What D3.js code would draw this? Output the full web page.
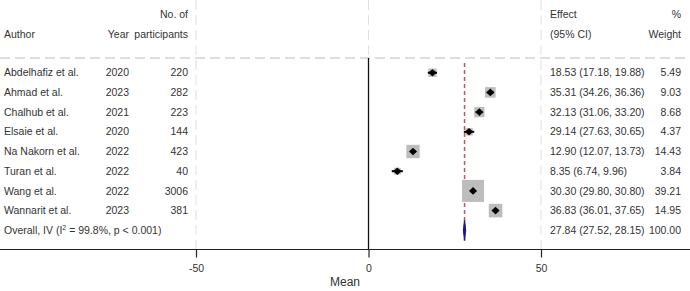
<!DOCTYPE html>
<html>
<head>
<meta charset="utf-8">
<script src="https://cdn.jsdelivr.net/npm/d3@7"></script>
<style>
  body { margin: 0; background: #fff; }
  svg { display: block; font-family: "Liberation Sans", Arial, sans-serif; }
</style>
</head>
<body>
<svg id="forest"></svg>
<script>
const authors = ["Abdelhafiz et al.", "Ahmad et al.", "Chalhub et al.", "Elsaie et al.",
  "Na Nakorn et al.", "Turan et al.", "Wang et al.", "Wannarit et al."];
const years = [2020, 2023, 2021, 2020, 2022, 2022, 2022, 2023];
const participants = [220, 282, 223, 144, 423, 40, 3006, 381];
const effects = [18.53, 35.31, 32.13, 29.14, 12.90, 8.35, 30.30, 36.83];
const lower = [17.18, 34.26, 31.06, 27.63, 12.07, 6.74, 29.80, 36.01];
const upper = [19.88, 36.36, 33.20, 30.65, 13.73, 9.96, 30.80, 37.65];
const weights = [5.49, 9.03, 8.68, 4.37, 14.43, 3.84, 39.21, 14.95];
const overall = { est: 27.84, lo: 27.52, hi: 28.15, weight: 100.0 };
const ticks = [-50, 0, 50];

const width = 690, height = 291;
const svg = d3.select("#forest").attr("width", width).attr("height", height);
const txt = "#333";
const fs = 10.5;

const x = d3.scaleLinear().domain([-50, 50]).range([196, 541]);
const rows = authors.concat(["overall"]);
const y = d3.scalePoint().domain(rows).range([72.7, 230.3]);
const box = d3.scaleSqrt().domain([0, d3.max(weights)]).range([0, 22]);
const f2 = d3.format(".2f");
const axisY = 249.5;

// grid lines
svg.selectAll(".grid")
  .data(ticks)
  .enter()
  .append("line")
  .attr("x1", d => x(d)).attr("x2", d => x(d))
  .attr("y1", 0).attr("y2", axisY)
  .attr("stroke", "#e0e0e0")
  .attr("stroke-dasharray", "10,5");

// header separator
svg.append("line")
  .attr("x1", 0).attr("x2", width)
  .attr("y1", 58).attr("y2", 58)
  .attr("stroke", "#d4d4d4")
  .attr("stroke-width", 1.5)
  .attr("stroke-dasharray", "10,5");

// zero line
svg.append("line")
  .attr("x1", x(0)).attr("x2", x(0))
  .attr("y1", 58).attr("y2", axisY)
  .attr("stroke", "#111")
  .attr("stroke-width", 1.3);

// overall effect line
svg.append("line")
  .attr("x1", x(overall.est)).attr("x2", x(overall.est))
  .attr("y1", 63).attr("y2", 241)
  .attr("stroke", "#c25563")
  .attr("stroke-width", 1.5)
  .attr("stroke-dasharray", "4,3");

// study rows
const study = svg.selectAll(".study")
  .data(authors.map((a, i) => ({ a: a, i: i })))
  .enter()
  .append("g")
  .attr("class", "study");

study.append("rect")
  .attr("x", d => x(effects[d.i]) - box(weights[d.i]) / 2)
  .attr("y", d => y(d.a) - box(weights[d.i]) / 2)
  .attr("width", d => box(weights[d.i]))
  .attr("height", d => box(weights[d.i]))
  .attr("fill", "#bdbdbd");

study.append("line")
  .attr("x1", d => x(lower[d.i])).attr("x2", d => x(upper[d.i]))
  .attr("y1", d => y(d.a)).attr("y2", d => y(d.a))
  .attr("stroke", "#000")
  .attr("stroke-width", 2);

study.append("path")
  .attr("d", d => {
    let cx = x(effects[d.i]), cy = y(d.a);
    return `M${cx - 4},${cy}L${cx},${cy - 3.8}L${cx + 4},${cy}L${cx},${cy + 3.8}Z`;
  })
  .attr("fill", "#000");

// overall diamond
let oy = y("overall");
svg.append("path")
  .attr("d", `M${x(overall.lo)},${oy}L${x(overall.est)},${oy - 10}L${x(overall.hi)},${oy}L${x(overall.est)},${oy + 10}Z`)
  .attr("fill", "#1a1a8a")
  .attr("stroke", "#1a1a8a")
  .attr("stroke-width", 1.2);

// table text
function col(values, xpos, anchor) {
  svg.append("g")
    .selectAll("text")
    .data(values)
    .enter()
    .append("text")
    .attr("x", xpos)
    .attr("y", (d, i) => y(rows[i]))
    .attr("dy", "0.35em")
    .attr("text-anchor", anchor)
    .attr("font-size", fs)
    .attr("fill", txt)
    .text(d => d);
}
col(authors, 4, "start");
col(years, 129, "end");
col(participants, 188, "end");
col(effects.map((e, i) => `${f2(e)} (${f2(lower[i])}, ${f2(upper[i])})`)
  .concat([`${f2(overall.est)} (${f2(overall.lo)}, ${f2(overall.hi)})`]), 550, "start");
col(weights.map(f2).concat([f2(overall.weight)]), 681, "end");

let ot = svg.append("text")
  .attr("x", 4).attr("y", oy).attr("dy", "0.35em")
  .attr("font-size", fs).attr("fill", txt);
ot.append("tspan").text("Overall, IV (I");
ot.append("tspan").attr("font-size", 7).attr("dy", "-0.6em").text("2");
ot.append("tspan").attr("dy", "0.42em").text(" = 99.8%, p < 0.001)");

// headers
const headers = [
  { t: "No. of", x: 188, y: 14, a: "end" },
  { t: "Author", x: 4, y: 34, a: "start" },
  { t: "Year", x: 129, y: 34, a: "end" },
  { t: "participants", x: 188, y: 34, a: "end" },
  { t: "Effect", x: 550, y: 14, a: "start" },
  { t: "(95% CI)", x: 550, y: 34, a: "start" },
  { t: "%", x: 681, y: 14, a: "end" },
  { t: "Weight", x: 681, y: 34, a: "end" }
];
svg.selectAll(".hdr")
  .data(headers)
  .enter()
  .append("text")
  .attr("x", d => d.x).attr("y", d => d.y).attr("dy", "0.35em")
  .attr("text-anchor", d => d.a)
  .attr("font-size", fs)
  .attr("fill", txt)
  .text(d => d.t);

// axis
svg.append("line")
  .attr("x1", 0).attr("x2", width)
  .attr("y1", axisY).attr("y2", axisY)
  .attr("stroke", "#222")
  .attr("stroke-width", 1.2);

let ax = svg.append("g")
  .attr("transform", `translate(0,${axisY})`)
  .call(d3.axisBottom(x).tickValues(ticks).tickSize(8).tickPadding(7).tickFormat(d => String(d)));
ax.select(".domain").remove();
ax.selectAll(".tick line").attr("stroke", "#222").attr("stroke-width", 1.2);
ax.selectAll("text").attr("font-size", fs).attr("fill", txt)
  .attr("font-family", "Liberation Sans, Arial, sans-serif");

svg.append("text")
  .attr("x", 345).attr("y", 282).attr("dy", "0.35em")
  .attr("text-anchor", "middle")
  .attr("font-size", 12)
  .attr("fill", txt)
  .text("Mean");
</script>
</body>
</html>
